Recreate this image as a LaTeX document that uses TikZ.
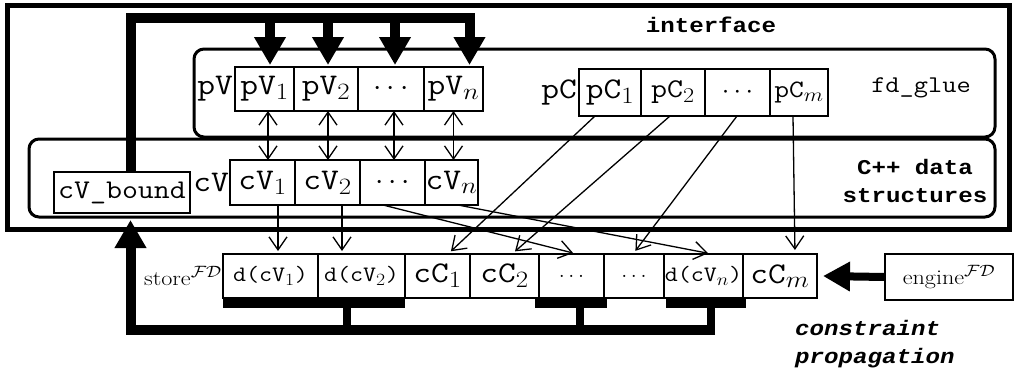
\RequirePackage{fix-cm}
\documentclass[tikz,border=0pt]{standalone}
\usepackage{fontspec}
\usepackage{graphicx}
\usetikzlibrary{arrows.meta,calc}
\newfontfamily\courfont{Liberation Mono}
\newcommand\sx[1]{\scalebox{1.15}[1]{#1}}
\renewcommand\defaultscriptratio{.78}
\begin{document}
\begin{tikzpicture}[x=1pt,y=-1pt,
  cell/.style={draw,line width=1.2pt,inner sep=0pt,outer sep=0pt,minimum height=44pt},
  big/.style={font=\fontsize{30}{34}\selectfont\ttfamily},
  mid/.style={font=\fontsize{27}{30}\selectfont\ttfamily},
  sm/.style={font=\fontsize{22}{26}\selectfont\ttfamily},
  rom/.style={font=\fontsize{21}{25}\selectfont\rmfamily},
  boldlab/.style={font=\fontsize{21}{28}\selectfont\courfont\bfseries},
  frame/.style={line width=5pt},
  rbox/.style={line width=3pt,rounded corners=10pt},
  fat/.style={line width=10pt},
  fatarrow/.style={line width=10pt,-{Triangle[length=28pt,width=30pt]}},
  thinline/.style={line width=1.3pt},
  tarrow/.style={thinline,-{Straight Barb[length=13pt,width=18pt]}},
  darrow/.style={thinline,{Straight Barb[length=13pt,width=18pt]}-{Straight Barb[length=13pt,width=18pt]}},
]
\useasboundingbox (0,0) rectangle (1015,376);
% containers
\draw[frame] (7,5) rectangle (1009,229);
\draw[rbox] (29,139) rectangle (995,217);
\draw[rbox] (194,49) rectangle (995,137);
% labels
\node[boldlab] (intf) at (711,25) {\sx{interface}};
\node[font=\fontsize{24}{28}\selectfont\ttfamily] (fdg) at (921,88) {\sx{fd\_glue}};
\node[boldlab,align=center,inner sep=0pt] (cpp) at (915,181) {\sx{C++ data}\\\sx{structures}};
\node[boldlab,font=\fontsize{21}{28}\selectfont\courfont\bfseries\itshape,align=left,anchor=west,inner sep=0pt] (cprop) at (795,344) {\sx{constraint}\\\sx{propagation}};
% pV row
\node[cell,big,minimum width=59pt] (pv1) at (264.5,89) {\sx{pV$_1$}};
\node[cell,big,minimum width=64pt] (pv2) at (326,89) {\sx{pV$_2$}};
\node[cell,big,minimum width=66pt] (pvd) at (391,89) {$\cdots$};
\node[cell,big,minimum width=59pt] (pvn) at (453.5,89) {\sx{pV$_n$}};
\node[big,anchor=east,inner sep=2pt] (pvl) at (pv1.west) {\sx{pV}};
% pC row
\node[cell,big,minimum width=62pt,minimum height=47pt] (pc1) at (610,92.5) {\sx{pC$_1$}};
\node[cell,mid,minimum width=64pt,minimum height=47pt] (pc2) at (673,92.5) {\sx{pC$_2$}};
\node[cell,mid,minimum width=65pt,minimum height=47pt] (pcd) at (737.5,92.5) {$\cdots$};
\node[cell,font=\fontsize{25}{28}\selectfont\ttfamily,minimum width=58pt,minimum height=47pt] (pcm) at (799,92.5) {\sx{pC$_m$}};
\node[big,anchor=east,inner sep=2pt] (pcl) at (pc1.west) {\sx{pC}};
% cV row
\node[cell,big,minimum width=65pt,minimum height=45pt] (cv1) at (262.5,182.5) {\sx{cV$_1$}};
\node[cell,big,minimum width=65pt,minimum height=45pt] (cv2) at (327.5,182.5) {\sx{cV$_2$}};
\node[cell,big,minimum width=65pt,minimum height=45pt] (cvd) at (392.5,182.5) {$\cdots$};
\node[cell,big,minimum width=53pt,minimum height=45pt] (cvn) at (451.5,182.5) {\sx{cV$_n$}};
\node[big,anchor=east,inner sep=1pt] (cvl) at (cv1.west) {\sx{cV}};
\node[cell,font=\fontsize{27}{30}\selectfont\ttfamily,minimum width=136pt,minimum height=41pt] (cvb) at (122,192.5) {\sx{cV\_bound}};
% store row
\node[cell,sm,minimum width=95pt] (d1) at (270.5,276) {\sx{d(cV$_1$)}};
\node[cell,sm,minimum width=87pt] (d2) at (361.5,276) {\sx{d(cV$_2$)}};
\node[cell,big,minimum width=65pt] (cc1) at (437.5,276) {\sx{cC$_1$}};
\node[cell,big,minimum width=69pt] (cc2) at (504.5,276) {\sx{cC$_2$}};
\node[cell,sm,minimum width=65pt] (dots1) at (571.5,276) {$\ldots$};
\node[cell,sm,minimum width=60pt] (dots2) at (634,276) {$\ldots$};
\node[cell,sm,minimum width=79pt] (dvn) at (703.5,276) {\sx{d(cV$_n$)}};
\node[cell,big,minimum width=74pt] (ccm) at (780,276) {\sx{cC$_m$}};
\node[rom,anchor=east,inner sep=1pt] (store) at (d1.west) {\sx{store$^{\mathcal{FD}}$}};
\node[cell,rom,minimum width=128pt,minimum height=46pt] (eng) at (949,277) {\sx{engine$^{\mathcal{FD}}$}};
% top thick tree
\coordinate (bar) at (0,18);
\draw[fat] ([xshift=9pt]cvb.north) |- (475,18);
\foreach \n/\dx in {pv1/5.5,pv2/2,pvd/4,pvn/16}
  \draw[fatarrow] ([xshift=\dx pt]\n.north |- bar) -- ([xshift=\dx pt,yshift=2pt]\n.north);
% double arrows
\foreach \p/\c/\dx in {pv1/cv1/3.5,pv2/cv2/2,pvd/cvd/3,pvn/cvn/0}
  \draw[darrow] ([xshift=\dx pt]\p.south) -- ([xshift=\dx pt]\p.south |- \c.north);
% cV -> store
\draw[tarrow,shorten >=3pt] ([xshift=15.5pt]cv1.south) -- ([xshift=15.5pt]cv1.south |- d1.north);
\draw[tarrow,shorten >=3pt] ([xshift=14.5pt]cv2.south) -- ([xshift=14.5pt]cv2.south |- d2.north);
\draw[tarrow,shorten >=4pt] ([xshift=-9.5pt]cvd.south) -- ([xshift=5.5pt]dots1.north);
\draw[tarrow,shorten >=4pt] ([xshift=6.5pt]cvn.south) -- ([xshift=8.5pt]dvn.north);
% pC -> store
\draw[tarrow,shorten >=4pt] ([xshift=-15pt]pc1.south) -- ([xshift=10.5pt]cc1.north);
\draw[tarrow,shorten >=4pt] ([xshift=-3pt]pc2.south) -- ([xshift=7.5pt]cc2.north);
\draw[tarrow,shorten >=4pt] ([xshift=-0.5pt]pcd.south) -- ([xshift=-1pt]dots2.north);
\draw[tarrow,shorten >=4pt] ([xshift=-6pt]pcm.south) -- ([xshift=15pt]ccm.north);
% bottom thick tree
\draw[line width=9pt] ([yshift=-5pt]d1.south west) -- ([yshift=-5pt]d2.south east);
\draw[line width=9pt] ([xshift=-4pt,yshift=-5pt]dots1.south west) -- ([xshift=3pt,yshift=-5pt]dots1.south east);
\draw[line width=9pt] ([xshift=2pt,yshift=-5pt]dvn.south west) -- ([xshift=3pt,yshift=-5pt]dvn.south east);
\draw[line width=8pt] ([xshift=29pt,yshift=-5pt]d2.south west) -- ++(0,28);
\draw[line width=8pt] ([xshift=8.5pt,yshift=-5pt]dots1.south) -- ++(0,28);
\draw[line width=8pt] ([xshift=7.5pt,yshift=-5pt]dvn.south) -- ++(0,28);
\draw[fatarrow] (715,330) -| ([xshift=8.5pt,yshift=-7pt]cvb.south);
% engine arrow
\draw[line width=8pt,-{Triangle[length=27pt,width=28pt]}] (eng.west) -- ([xshift=6pt]ccm.east);
\end{tikzpicture}
\end{document}
